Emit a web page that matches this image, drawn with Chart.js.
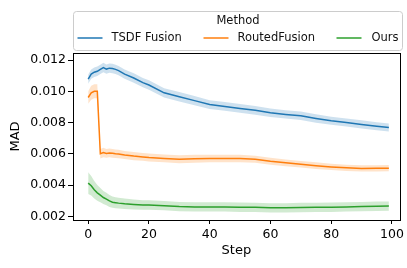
<!DOCTYPE html>
<html lang="en">
<head>
    <meta charset="UTF-8">
    <title>MAD per step</title>
    <script src="https://cdn.jsdelivr.net/npm/chart.js"></script>
    <style>
        html, body { margin: 0; padding: 0; background: #fff; }
        #wrap { width: 407px; height: 268px; }
    </style>
</head>
<body>
<div id="wrap"><canvas id="madChart" width="407" height="268"></canvas></div>
<script>
    // values
    const steps = [0, 1, 2, 3, 4, 5, 6, 7, 8, 9, 10, 12, 15, 18, 20, 25, 30, 35, 40, 45, 50, 55, 60, 65, 70, 75, 80, 85, 90, 95, 99];
    const tsdf = [0.01078, 0.0111, 0.01122, 0.01128, 0.0114, 0.01152, 0.01142, 0.01148, 0.01146, 0.0114, 0.01132, 0.0111, 0.01085, 0.01055, 0.0104, 0.0099, 0.00965, 0.0094, 0.00915, 0.00903, 0.0089, 0.00878, 0.00862, 0.00852, 0.00843, 0.00826, 0.00811, 0.008, 0.00788, 0.00776, 0.00768];
    const routed = [0.0096, 0.0099, 0.0100, 0.0100, 0.0060, 0.00608, 0.00602, 0.00605, 0.00603, 0.006, 0.00598, 0.00592, 0.00585, 0.0058, 0.00576, 0.0057, 0.00565, 0.00568, 0.0057, 0.0057, 0.0057, 0.00565, 0.00552, 0.00542, 0.00533, 0.00524, 0.00516, 0.0051, 0.00506, 0.00507, 0.00508];
    const ours = [0.00412, 0.00395, 0.0037, 0.0035, 0.00335, 0.0032, 0.0031, 0.00298, 0.0029, 0.00287, 0.00284, 0.0028, 0.00276, 0.00272, 0.00272, 0.00268, 0.00262, 0.0026, 0.0026, 0.0026, 0.00258, 0.00257, 0.00254, 0.00254, 0.00256, 0.00257, 0.00258, 0.0026, 0.00262, 0.00264, 0.00265];
    // half width of the shaded bands
    const tsdfSpread = [0.0003, 0.0003, 0.0003, 0.0003, 0.0003, 0.0003, 0.0003, 0.0003, 0.0003, 0.0003, 0.0003, 0.0003, 0.0003, 0.0003, 0.0003, 0.0003, 0.0003, 0.0003, 0.00028, 0.00028, 0.00028, 0.00028, 0.00027, 0.00027, 0.00027, 0.00027, 0.00026, 0.00026, 0.00026, 0.00026, 0.00026];
    const routedSpread = [0.0004, 0.00045, 0.00045, 0.00045, 0.0003, 0.0003, 0.00028, 0.00028, 0.00028, 0.00027, 0.00027, 0.00026, 0.00026, 0.00025, 0.00025, 0.00025, 0.00025, 0.00025, 0.00024, 0.00024, 0.00024, 0.00023, 0.00022, 0.00022, 0.00021, 0.00021, 0.0002, 0.0002, 0.0002, 0.0002, 0.0002];
    const oursSpread = [0.0007, 0.00062, 0.00056, 0.0005, 0.00046, 0.00042, 0.0004, 0.00038, 0.00036, 0.00035, 0.00034, 0.00033, 0.00032, 0.00031, 0.00031, 0.0003, 0.0003, 0.0003, 0.0003, 0.0003, 0.0003, 0.0003, 0.0003, 0.0003, 0.0003, 0.0003, 0.0003, 0.0003, 0.0003, 0.0003, 0.0003];
    const xTicks = [0, 20, 40, 60, 80, 100];
    const yTicks = [0.002, 0.004, 0.006, 0.008, 0.010, 0.012];
    const methods = ['TSDF Fusion', 'RoutedFusion', 'Ours'];
    const colors = ['#1f77b4', '#ff7f0e', '#2ca02c'];
    const bandColors = ['rgba(31,119,180,0.22)', 'rgba(255,127,14,0.22)', 'rgba(44,160,44,0.22)'];

    const FONT = 'DejaVu Sans';

    function pts(vals, off, sign) {
        return steps.map((s, i) => ({ x: s, y: vals[i] + (off ? sign * off[i] : 0) }));
    }

    function lineSet(k, vals) {
        return {
            label: methods[k], data: pts(vals), borderColor: colors[k], backgroundColor: colors[k],
            borderWidth: 1.5, pointRadius: 0, fill: false, tension: 0, order: 0
        };
    }

    function bandSets(k, vals, spread) {
        return [
            { label: '_band', data: pts(vals, spread, 1), borderWidth: 0, pointRadius: 0, fill: false, order: 1 },
            { label: '_band', data: pts(vals, spread, -1), borderWidth: 0, pointRadius: 0, fill: '-1', backgroundColor: bandColors[k], order: 1 }
        ];
    }

    const datasets = [lineSet(0, tsdf), lineSet(1, routed), lineSet(2, ours)].concat(
        bandSets(0, tsdf, tsdfSpread),
        bandSets(1, routed, routedSpread),
        bandSets(2, ours, oursSpread)
    );

    // plot frame + matplotlib-style legend box above the plot
    const frames = {
        id: 'frames',
        afterDraw(chart) {
            const ctx = chart.ctx;
            const a = chart.chartArea;
            ctx.save();
            ctx.strokeStyle = '#000';
            ctx.lineWidth = 1;
            ctx.strokeRect(Math.round(a.left) + 0.5, Math.round(a.top) + 0.5, Math.round(a.right - a.left), Math.round(a.bottom - a.top));

            const bx = Math.round(a.left) + 0.5, by = 11.5, bw = Math.round(a.right - a.left) + 2, bh = 39;
            ctx.strokeStyle = '#cccccc';
            ctx.beginPath();
            ctx.roundRect(bx, by, bw, bh, 3);
            ctx.stroke();

            ctx.font = '11.5px ' + FONT;
            ctx.fillStyle = '#111';
            ctx.textBaseline = 'middle';
            ctx.textAlign = 'center';
            ctx.fillText('Method', bx + bw / 2, by + 10);
            ctx.textAlign = 'left';
            const lineOff = [4, 130, 263];
            const textOff = [38, 164, 298];
            methods.forEach((m, k) => {
                const y = by + 26.5;
                ctx.strokeStyle = colors[k];
                ctx.lineWidth = 1.5;
                ctx.beginPath();
                ctx.moveTo(bx + lineOff[k], y);
                ctx.lineTo(bx + lineOff[k] + 25, y);
                ctx.stroke();
                ctx.fillText(m, bx + textOff[k], y);
            });
            ctx.restore();
        }
    };

    new Chart(document.getElementById('madChart'), {
        type: 'line',
        data: { datasets: datasets },
        plugins: [frames],
        options: {
            responsive: false,
            animation: false,
            layout: { padding: { left: 8, right: 6, top: 53, bottom: 10 } },
            plugins: {
                tooltip: { enabled: false },
                legend: { display: false }
            },
            scales: {
                x: {
                    type: 'linear',
                    min: -5,
                    max: 102.6,
                    afterBuildTicks: s => { s.ticks = xTicks.map(v => ({ value: v })); },
                    afterFit: s => { s.height = 38; },
                    grid: { drawOnChartArea: false, drawTicks: true, tickLength: 4, color: '#000' },
                    border: { display: true, color: '#000' },
                    ticks: { color: '#000', font: { family: FONT, size: 12.5 }, padding: 3, maxRotation: 0 },
                    title: { display: true, text: 'Step', color: '#000', font: { family: FONT, size: 13 }, padding: { top: 2, bottom: 0 } }
                },
                y: {
                    type: 'linear',
                    min: 0.00176,
                    max: 0.01245,
                    afterBuildTicks: s => { s.ticks = yTicks.map(v => ({ value: v })); },
                    afterFit: s => { s.width = 65; },
                    grid: { drawOnChartArea: false, drawTicks: true, tickLength: 5, color: '#000' },
                    border: { display: true, color: '#000' },
                    ticks: { color: '#000', font: { family: FONT, size: 12.5 }, padding: 2, callback: v => v.toFixed(3) },
                    title: { display: true, text: 'MAD', color: '#000', font: { family: FONT, size: 13 }, padding: 0 }
                }
            }
        }
    });
</script>
</body>
</html>
